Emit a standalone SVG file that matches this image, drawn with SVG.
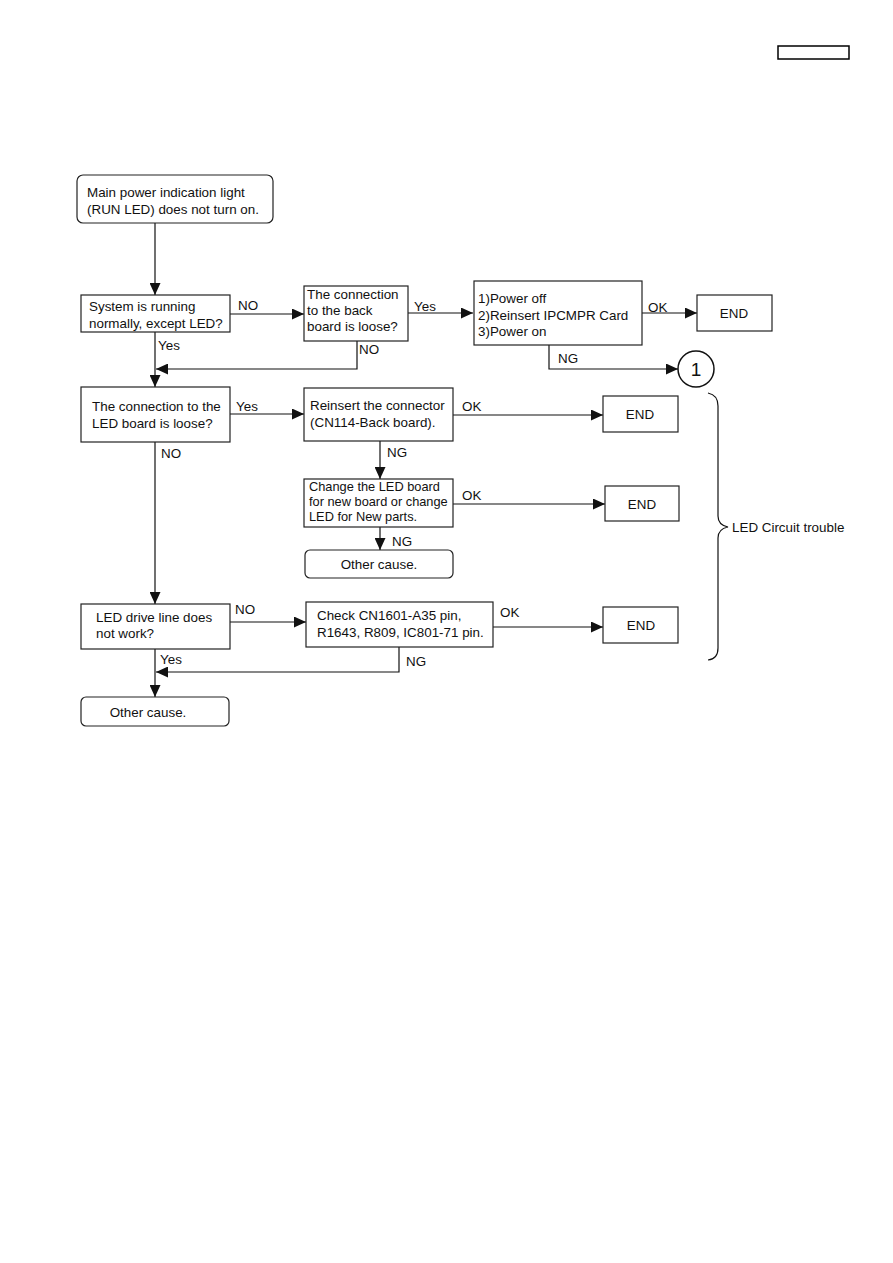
<svg xmlns="http://www.w3.org/2000/svg" width="893" height="1263" viewBox="0 0 893 1263">
<style>
.box{fill:#fff;stroke:#222;stroke-width:1.2}
.ln{fill:none;stroke:#111;stroke-width:1.2}
text{font-family:"Liberation Sans",Arial,sans-serif;font-size:13.4px;fill:#111}
.c{text-anchor:middle}
</style>
<defs>
<marker id="ah" viewBox="0 0 12 11" refX="12" refY="5.5" markerWidth="12" markerHeight="11" markerUnits="userSpaceOnUse" orient="auto">
<path d="M0,0 L12,5.5 L0,11 Z" fill="#111"/>
</marker>
</defs>
<rect x="778" y="46" width="71" height="13" fill="none" stroke="#000" stroke-width="1.5"/>

<g id="connectors">
<path class="ln" d="M155,223 V295" marker-end="url(#ah)"/>
<path class="ln" d="M230,314 H304" marker-end="url(#ah)"/>
<text x="238" y="310">NO</text>
<path class="ln" d="M408,313 H473" marker-end="url(#ah)"/>
<text x="414" y="311">Yes</text>
<path class="ln" d="M642,313 H697" marker-end="url(#ah)"/>
<text x="648" y="312">OK</text>
<path class="ln" d="M549,345 V369 H678" marker-end="url(#ah)"/>
<text x="558" y="363">NG</text>
<path class="ln" d="M357,341 V369 H156" marker-end="url(#ah)"/>
<text x="359" y="354">NO</text>
<path class="ln" d="M155,332 V387" marker-end="url(#ah)"/>
<text x="158" y="350">Yes</text>
<path class="ln" d="M230,414 H304" marker-end="url(#ah)"/>
<text x="236" y="411">Yes</text>
<path class="ln" d="M453,415 H603" marker-end="url(#ah)"/>
<text x="462" y="411">OK</text>
<path class="ln" d="M380,441 V479" marker-end="url(#ah)"/>
<text x="387" y="457">NG</text>
<path class="ln" d="M453,504 H605" marker-end="url(#ah)"/>
<text x="462" y="500">OK</text>
<path class="ln" d="M380,527 V550" marker-end="url(#ah)"/>
<text x="392" y="546">NG</text>
<path class="ln" d="M155,442 V604" marker-end="url(#ah)"/>
<text x="161" y="458">NO</text>
<path class="ln" d="M230,622 H306" marker-end="url(#ah)"/>
<text x="235" y="614">NO</text>
<path class="ln" d="M493,627 H603" marker-end="url(#ah)"/>
<text x="500" y="617">OK</text>
<path class="ln" d="M399,647 V672 H156" marker-end="url(#ah)"/>
<text x="406" y="666">NG</text>
<path class="ln" d="M155,649 V697" marker-end="url(#ah)"/>
<text x="160" y="664">Yes</text>
</g>

<g id="start">
<rect class="box" x="77" y="175" width="196" height="48" rx="6"/>
<text x="87" y="197">Main power indication light</text>
<text x="87" y="214">(RUN LED) does not turn on.</text>
</g>
<g id="q-running">
<rect class="box" x="81" y="295" width="149" height="37"/>
<text x="89" y="311">System is running</text>
<text x="89" y="328">normally, except LED?</text>
</g>
<g id="q-backboard">
<rect class="box" x="304" y="286" width="104" height="55"/>
<text x="307" y="299">The connection</text>
<text x="307" y="315">to the back</text>
<text x="307" y="331">board is loose?</text>
</g>
<g id="power-cycle">
<rect class="box" x="474" y="281" width="168" height="64"/>
<text x="478" y="303">1)Power off</text>
<text x="478" y="320">2)Reinsert IPCMPR Card</text>
<text x="478" y="336">3)Power on</text>
</g>
<g id="end1">
<rect class="box" x="697" y="295" width="75" height="36"/>
<text class="c" x="734" y="318">END</text>
</g>
<g id="connector1">
<circle cx="696" cy="369" r="18" fill="#fff" stroke="#111" stroke-width="1.5"/>
<text class="c" x="696" y="376" style="font-size:19px">1</text>
</g>
<g id="q-ledboard">
<rect class="box" x="81" y="387" width="149" height="55"/>
<text x="92" y="411">The connection to the</text>
<text x="92" y="428">LED board is loose?</text>
</g>
<g id="reinsert">
<rect class="box" x="304" y="388" width="149" height="53"/>
<text x="310" y="410">Reinsert the connector</text>
<text x="310" y="427">(CN114-Back board).</text>
</g>
<g id="end2">
<rect class="box" x="603" y="396" width="75" height="36"/>
<text class="c" x="640" y="419">END</text>
</g>
<g id="change-led">
<rect class="box" x="304" y="479" width="149" height="48"/>
<text x="309" y="491" style="font-size:12.8px">Change the LED board</text>
<text x="309" y="506" style="font-size:12.8px">for new board or change</text>
<text x="309" y="521" style="font-size:12.8px">LED for New parts.</text>
</g>
<g id="end3">
<rect class="box" x="605" y="486" width="74" height="35"/>
<text class="c" x="642" y="509">END</text>
</g>
<g id="other1">
<rect class="box" x="305" y="550" width="148" height="28" rx="5"/>
<text class="c" x="379" y="569">Other cause.</text>
</g>
<g id="q-driveline">
<rect class="box" x="81" y="604" width="149" height="45"/>
<text x="96" y="622">LED drive line does</text>
<text x="96" y="638">not work?</text>
</g>
<g id="check">
<rect class="box" x="306" y="602" width="187" height="45"/>
<text x="317" y="620">Check CN1601-A35 pin,</text>
<text x="317" y="637">R1643, R809, IC801-71 pin.</text>
</g>
<g id="end4">
<rect class="box" x="603" y="607" width="75" height="36"/>
<text class="c" x="641" y="630">END</text>
</g>
<g id="other2">
<rect class="box" x="81" y="697" width="148" height="29" rx="5"/>
<text class="c" x="148" y="717">Other cause.</text>
</g>
<g id="brace">
<path class="ln" d="M708,393 Q718,395 718,406 L718,516 Q718,525 728,527 Q718,529 718,538 L718,648 Q718,659 708,660"/>
<text x="732" y="532">LED Circuit trouble</text>
</g>
</svg>
